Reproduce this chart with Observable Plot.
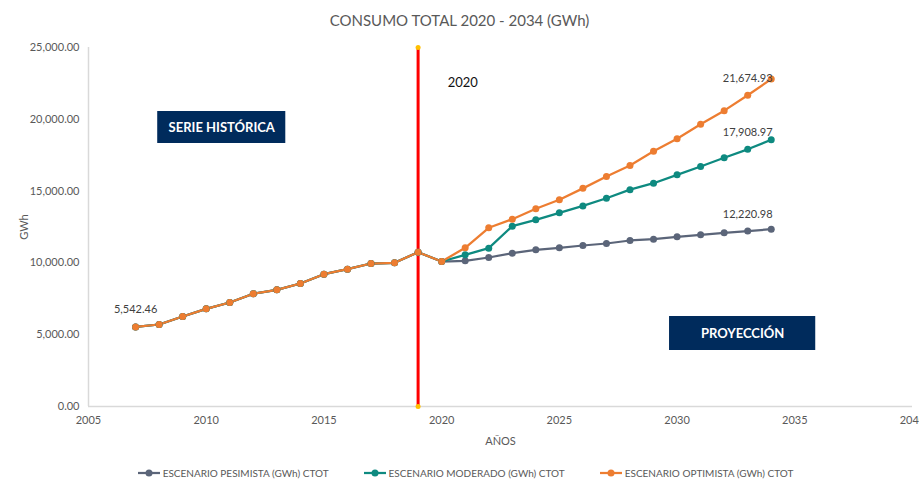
<!DOCTYPE html>
<html><head><meta charset="utf-8">
<script src="https://cdn.jsdelivr.net/npm/d3@7"></script>
<script src="https://cdn.jsdelivr.net/npm/@observablehq/plot@0.6"></script>
<style>
body{margin:0;background:#fff;font-family:Lato,"Noto Sans",sans-serif;}
#title{height:36px;line-height:40px;text-align:center;font-size:15px;color:#595959;}
#chart{height:420px;}
#legend{display:flex;justify-content:center;gap:35px;font-size:10px;color:#595959;height:33px;align-items:center;padding-left:12px}
#legend .item{display:flex;align-items:center;gap:3px}
</style></head>
<body>
<div id="title">CONSUMO TOTAL 2020 - 2034 (GWh)</div>
<div id="chart"></div>
<div id="legend"></div>
<script>
const years = [2007,2008,2009,2010,2011,2012,2013,2014,2015,2016,2017,2018,2019,2020,
               2021,2022,2023,2024,2025,2026,2027,2028,2029,2030,2031,2032,2033,2034];
const historico = [5542.46,5710,6267,6800,7242,7850,8126,8565,9215,9563,9958,10007,10745,10097];
const pesimista = [10146,10376,10676,10912,11051,11212,11351,11560,11651,11818,11957,12096,12220.98,12347];
const moderado  = [10564,11024,12556,13001,13489,13970,14500,15100,15551,16134,16713,17319,17908.97,18572];
const optimista = [11051,12444,13043,13767,14400,15190,16010,16783,17770,18650,19650,20600,21674.93,22800];
const serieNames = ["ESCENARIO PESIMISTA (GWh) CTOT","ESCENARIO MODERADO (GWh) CTOT","ESCENARIO OPTIMISTA (GWh) CTOT"];
const serieColors = ["#5b6579","#0e8a80","#ed7d31"];
const xTicks = [2005,2010,2015,2020,2025,2030,2035,2040];
const yTicks = [0,5000,10000,15000,20000,25000];
// data labels
const labelYears = [2007,2033,2033,2033];
const labelValues = [5542.46,12220.98,17908.97,21674.93];
// vertical marker
const markerYear = [2019];
const markerRange = [0,25000];
const markerText = ["2020"];
const markerTextPos = [2020.9, 22560];
// annotation boxes
const boxTexts = ["SERIE HISTÓRICA","PROYECCIÓN"];
const boxX1 = [2007.94,2029.68], boxX2 = [2013.38,2035.89];
const boxY1 = [18315,3900], boxY2 = [20543,6267];

const allSeries = [pesimista, moderado, optimista];
const data = serieNames.flatMap((name,k) =>
  historico.concat(allSeries[k]).map((v,i) => ({serie:name, year:years[i], value:v})));
const labels = labelYears.map((y,i)=>({year:y, value:labelValues[i], text:d3.format(",.2f")(labelValues[i])}));
const boxes = boxTexts.map((t,i)=>({text:t,x1:boxX1[i],x2:boxX2[i],y1:boxY1[i],y2:boxY2[i]}));
const markerPts = markerRange.map(v=>({year:markerYear[0], value:v}));

const font = 'Lato,"Noto Sans",sans-serif';
const plot = Plot.plot({
  width:919, height:420,
  marginLeft:88, marginRight:7, marginTop:11, marginBottom:50,
  style:{fontFamily:font, fontSize:"11px", color:"#595959", background:"white", overflow:"visible"},
  x:{domain:[2005,2040]},
  y:{domain:[0,25000]},
  color:{domain:serieNames, range:serieColors},
  marks:[
    Plot.axisX({ticks:xTicks, tickFormat:d=>String(d), tickSize:0, tickPadding:10, label:"AÑOS", labelArrow:"none", labelAnchor:"center", labelOffset:38, fontSize:11}),
    Plot.axisY({ticks:yTicks, tickFormat:d3.format(",.2f"), tickSize:0, tickPadding:9, label:"GWh", labelArrow:"none", labelAnchor:"center", labelOffset:68, fontSize:11}),
    Plot.ruleX([2005],{stroke:"#d9d9d9", strokeWidth:1.5}),
    Plot.ruleY([0],{stroke:"#d9d9d9", strokeWidth:1.5}),
    Plot.rect(boxes,{x1:"x1",x2:"x2",y1:"y1",y2:"y2",fill:"#002b5c"}),
    Plot.text(boxes,{x:d=>(d.x1+d.x2)/2, y:d=>(d.y1+d.y2)/2, text:"text", fill:"white", fontWeight:"bold", fontSize:13}),
    Plot.line(markerPts,{x:"year",y:"value",stroke:"#ff0000",strokeWidth:3}),
    Plot.dot(markerPts,{x:"year",y:"value",fill:"#ffc000",r:2.5}),
    Plot.text(markerText,{x:[markerTextPos[0]], y:[markerTextPos[1]], text:d=>d, fill:"#111", fontSize:13}),
    Plot.line(data,{x:"year",y:"value",z:"serie",stroke:"serie",strokeWidth:2.25}),
    Plot.dot(data,{x:"year",y:"value",fill:"serie",r:3.5}),
    Plot.text(labels,{x:"year",y:"value",text:"text",dy:-17,fill:"#404040",fontSize:11})
  ]
});
document.getElementById("chart").appendChild(plot);

const lg = document.getElementById("legend");
serieNames.forEach((n,i)=>{
  const it = document.createElement("div"); it.className="item";
  it.innerHTML = `<svg width="22" height="8"><line x1="0" y1="4" x2="22" y2="4" stroke="${serieColors[i]}" stroke-width="2.25"/><circle cx="11" cy="4" r="3.5" fill="${serieColors[i]}"/></svg><span>${n}</span>`;
  lg.appendChild(it);
});
</script>
</body></html>
